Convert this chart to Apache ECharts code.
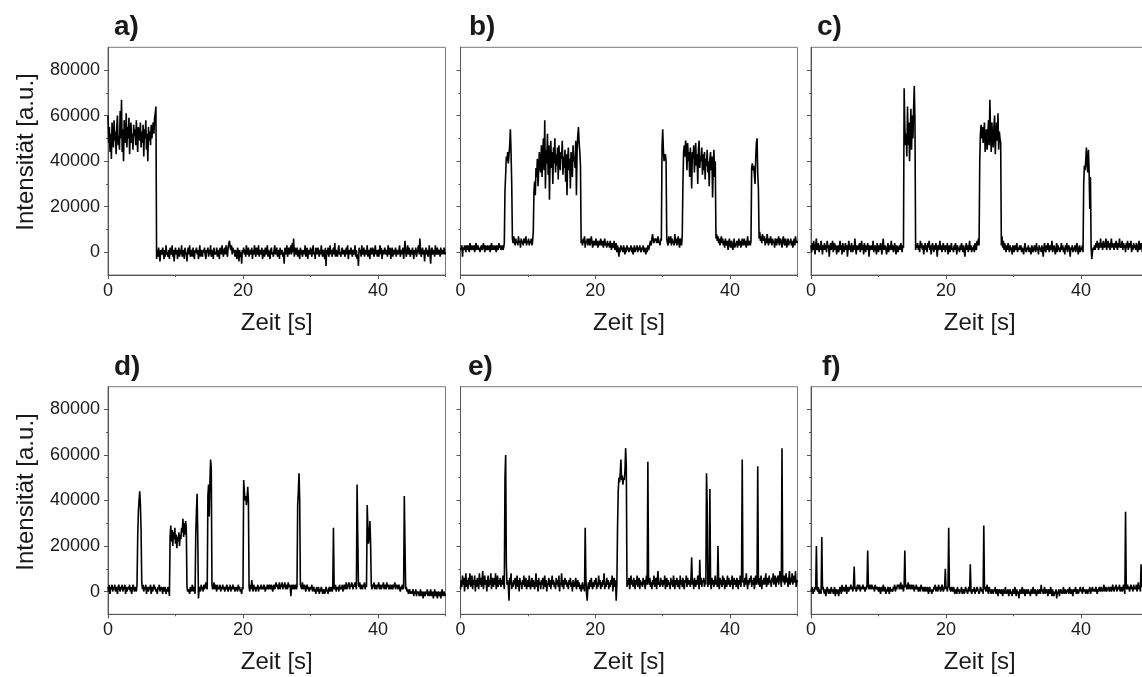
<!DOCTYPE html>
<html><head><meta charset="utf-8">
<script src="https://cdn.jsdelivr.net/npm/echarts@6/dist/echarts.min.js"></script>
<style>html,body{margin:0;padding:0;background:#fff}#c{width:1142px;height:677px}</style>
</head><body><div id="c"></div>
<script>
// sampling step of the traces (s); values below are intensities in units of 1000 a.u.
const DT = 0.1;
const panelLabels = ['a)', 'b)', 'c)', 'd)', 'e)', 'f)'];
const xTickValues = [0, 20, 40];
const xMinorValues = [10, 30, 50];
const yTickValues = [0, 20000, 40000, 60000, 80000];
const yMinorValues = [10000, 30000, 50000, 70000];
const xName = 'Zeit [s]';
const yName = 'Intensität [a.u.]';

const traceA = [
60,48,55,44,52,41,57,50,46,58,
49,53,43,55,60,47,51,45,62,50,
67,44,54,40,58,52,48,61,46,55,
50,59,43,53,57,48,52,45,56,51,
54,47,58,50,44,55,52,49,57,46,
53,48,56,42,54,50,58,45,52,40,
55,49,53,47,56,50,54,57,52,59,
61,64,-3,1,-2,2,-1,-4,1,0,
-1,2,0,-3,1,-2,3,-1,0,-2,
1,-3,2,0,-1,3,-2,1,-4,0,
2,-1,1,-3,0,2,-2,1,-1,3,
-2,0,1,-3,2,-1,0,-4,1,2,
-1,3,-2,0,1,-2,2,-1,-3,1,
0,2,-1,1,-3,0,3,-2,1,-1,
-2,1,0,2,-1,-3,1,0,2,-2,
1,-1,3,-2,0,1,-3,2,-1,0,
-1,2,-2,1,0,-3,2,1,-1,3,
0,-2,1,2,-1,3,0,-2,2,4,
5,2,1,3,-1,2,0,1,-2,1,
-1,-3,2,0,-4,1,-2,0,-5,1,
0,2,-1,1,-2,3,0,-1,2,-2,
1,-1,0,2,-3,1,-1,3,0,-2,
2,0,-1,3,-2,1,0,-1,2,-3,
0,1,-2,2,-1,0,3,-2,1,-1,
-3,1,2,-1,0,-2,1,3,-1,0,
2,-2,0,1,-3,2,-1,0,1,-2,
0,-5,2,1,-1,3,-2,0,2,-1,
1,3,-1,4,0,6,-2,2,0,-1,
2,-2,1,0,-3,2,-1,1,-2,0,
1,-1,3,-2,0,2,-3,1,0,-1,
2,0,-2,1,3,-1,0,-3,2,1,
-1,2,0,-2,1,-1,3,0,-2,1,
0,-3,2,-6,1,-1,2,-2,0,3,
-1,1,-2,0,2,-1,4,-2,1,0,
-2,1,3,-1,0,-2,1,2,-1,0,
1,-2,0,2,-1,3,-3,0,1,-1,
2,0,-2,1,-1,0,3,-2,1,-3,
-1,-6,2,0,1,-2,3,-1,0,2,
-2,1,0,-1,3,-2,1,0,-3,2,
0,-1,2,1,-2,0,3,-1,1,-2,
1,-2,0,3,-1,2,-3,0,1,-1,
2,0,-1,1,-2,3,0,-1,2,-3,
0,2,-2,1,-1,0,2,-2,1,0,
-1,1,3,-2,0,1,-1,2,-3,1,
5,0,-2,1,3,-1,2,0,-2,1,
-1,2,0,-3,1,-1,2,-2,0,1,
3,-1,6,1,-2,0,2,-1,1,-4,
0,2,-1,1,-2,0,3,-1,-5,1,
2,-1,0,1,-2,3,0,-1,2,-1,
0,1,-2,2,-1,0,1,-1,2,-1,
0];

const traceB = [
2,1,3,-2,2,1,3,2,0,3,
1,3,2,0,4,2,1,3,2,1,
3,0,2,4,1,2,3,1,2,0,
2,3,1,2,4,2,0,3,2,1,
3,1,2,3,0,2,4,1,3,2,
1,3,2,0,3,2,1,4,2,3,
1,2,3,1,2,4,27,34,42,40,
44,39,43,47,54,44,30,6,4,7,
5,3,6,4,5,3,7,4,5,2,
6,4,5,3,6,5,4,7,3,5,
4,6,3,5,4,6,3,5,9,27,
31,25,37,33,41,29,36,44,38,35,
47,33,42,50,36,58,28,45,39,52,
34,47,23,41,49,37,44,30,46,39,
50,35,43,38,46,32,47,40,36,44,
41,49,34,42,37,45,31,43,25,40,
46,36,41,28,44,39,33,47,40,42,
37,49,25,45,51,55,48,44,38,4,
5,3,6,4,7,2,5,4,6,3,
5,6,3,4,7,5,2,4,5,3,
4,6,3,5,2,4,5,3,6,4,
3,5,2,4,6,3,4,2,5,3,
4,2,5,3,1,4,2,3,5,1,
2,4,0,3,1,-2,2,0,3,1,
2,0,3,1,-1,2,0,3,1,2,
0,2,1,3,0,2,-1,1,3,0,
2,1,3,0,2,1,3,1,0,2,
1,3,0,2,1,-1,2,0,3,1,
2,4,5,3,6,8,5,4,6,5,
6,4,5,7,4,5,3,6,5,46,
54,45,40,42,43,40,6,4,3,7,
5,4,7,3,6,4,5,3,8,4,
6,3,5,7,4,2,6,5,3,7,
30,44,47,42,49,45,36,48,40,44,
33,46,39,28,44,41,47,35,42,48,
38,43,30,45,49,37,42,40,46,34,
43,36,44,32,41,38,45,35,40,29,
41,44,36,42,24,38,45,33,40,6,
8,5,7,4,6,3,5,7,4,6,
3,5,2,6,4,3,5,1,4,6,
3,2,5,4,1,3,6,2,4,3,
5,2,4,6,3,5,2,4,6,3,
4,6,3,5,2,4,7,3,5,4,
3,5,37,39,36,38,34,30,41,48,
50,35,28,6,9,5,7,4,8,6,
5,7,3,6,4,8,5,3,6,4,
7,5,3,6,4,5,2,6,5,3,
6,4,7,3,5,6,4,2,5,7,
4,3,6,5,2,4,6,3,5,4,
6,3,5,2,4,6,3,7,4,5,
4];

const traceC = [
3,0,4,1,5,2,-1,3,6,1,
2,4,0,3,1,5,2,-1,3,1,
4,1,3,0,5,2,3,-2,2,4,
1,3,5,0,2,4,1,3,-1,2,
3,0,2,5,1,3,-1,4,2,0,
2,4,1,3,-2,2,5,1,3,0,
4,2,0,3,1,6,2,-1,3,2,
1,3,4,0,2,5,1,3,-1,4,
2,0,3,1,4,2,-2,3,1,2,
3,1,5,0,2,3,1,-1,4,2,
0,3,1,4,2,-1,3,6,1,2,
3,1,-1,2,4,0,3,1,2,5,
1,3,0,2,4,1,-1,3,2,0,
2,3,1,4,2,0,3,2,72,55,
47,52,42,64,47,57,40,51,63,45,
60,50,63,73,58,1,3,2,4,1,
3,0,5,2,4,1,3,-1,2,4,
1,3,0,4,2,5,1,3,-1,2,
4,2,0,3,1,4,2,-2,3,1,
2,5,1,3,0,2,4,1,3,0,
3,1,4,-1,2,3,0,2,4,1,
2,0,3,1,4,2,-1,3,1,2,
0,3,1,4,2,0,3,1,-2,2,
4,1,3,0,2,5,1,3,0,2,
1,3,0,4,2,1,5,3,6,3,
40,52,56,50,55,48,53,57,44,51,
54,45,52,58,47,67,53,44,57,50,
46,55,60,43,52,57,49,61,45,53,
50,48,3,7,2,5,1,4,2,0,
3,1,4,2,0,3,1,2,-1,3,
2,0,3,1,2,4,0,2,1,3,
1,3,0,2,1,-1,2,4,1,0,
2,1,3,0,2,1,-1,3,2,0,
1,3,2,0,4,1,2,-1,3,1,
2,0,3,1,-2,2,4,1,0,3,
1,4,2,0,3,1,2,5,0,2,
3,1,-1,2,4,0,3,1,2,0,
2,4,1,3,0,2,-1,3,1,4,
0,2,3,1,-2,2,1,3,0,2,
1,3,0,2,4,1,-1,2,3,0,
2,1,3,0,30,38,36,40,46,38,
35,45,36,19,33,2,-3,0,2,1,
3,1,4,2,5,3,1,4,2,6,
2,4,1,5,3,2,4,6,1,3,
5,2,4,1,3,6,2,4,3,1,
4,2,5,3,1,4,2,6,3,2,
3,5,1,4,2,3,0,4,2,5,
1,3,4,2,5,0,3,1,4,2,
3,1,4,2,0,3,5,1,2,4,
2,0,3,1,4,2,-1,3,1,2,
2];

const traceD = [
2,0,3,-1,2,1,3,0,2,1,
3,0,2,1,-1,2,3,1,0,2,
1,3,0,2,1,3,-1,2,0,1,
2,1,3,0,2,-1,1,3,2,0,
1,2,0,3,24,35,40,44,38,27,
4,1,3,0,2,1,3,-1,2,1,
0,2,1,3,-1,2,0,1,3,1,
2,0,1,-1,2,1,3,0,1,2,
1,-1,2,0,1,2,-1,1,0,2,
1,-2,24,29,22,27,20,26,23,28,
21,25,19,24,22,26,20,25,23,28,
26,32,24,30,25,31,28,2,0,1,
1,-1,2,0,1,3,0,2,1,-1,
25,35,43,24,-3,1,2,0,3,1,
2,0,3,1,2,4,2,1,42,47,
33,48,58,54,3,1,2,4,1,3,
2,0,3,1,2,1,3,0,2,1,
3,1,2,0,2,1,3,1,0,2,
1,3,0,2,1,3,1,2,0,1,
2,1,0,3,1,2,0,1,-1,2,
1,49,44,40,42,38,41,46,40,2,
0,3,1,5,2,0,3,1,2,0,
2,1,3,0,2,1,2,3,1,2,
1,3,2,0,2,1,3,2,1,3,
2,1,3,2,0,2,3,1,2,4,
2,3,1,2,4,1,3,2,4,1,
3,2,4,1,2,3,1,4,2,3,
2,-2,3,1,2,3,1,2,3,1,
2,38,44,52,40,3,2,1,4,2,
1,3,2,0,2,3,1,2,0,1,
2,1,3,0,1,2,0,1,-1,2,
1,0,2,-1,1,0,2,1,-1,0,
1,-1,0,2,1,0,-1,1,2,0,
1,2,0,1,28,2,1,3,0,2,
1,2,0,3,1,2,1,3,0,2,
3,1,2,4,1,3,2,4,1,3,
2,4,3,1,3,2,4,3,1,47,
25,3,2,4,1,3,2,1,3,2,
4,1,3,2,38,28,21,24,31,22,
3,1,3,2,4,1,3,2,1,3,
2,4,1,3,2,1,3,2,4,1,
3,2,1,4,2,3,1,2,3,1,
2,3,1,3,2,4,1,2,3,2,
1,3,2,0,2,1,3,1,2,42,
20,1,2,0,1,-1,0,1,-1,0,
-1,0,1,-2,0,-1,1,-2,0,-1,
0,-2,-1,1,-2,0,-1,-3,0,-1,
-2,0,-1,1,-2,-1,0,-2,1,-1,
-2,0,-3,-1,1,-2,0,-1,-3,0,
-1,-2,0,-3,-1,1,-2,-1,0,-2,
-1];

const traceE = [
1,5,2,7,3,6,0,4,8,2,
5,1,6,3,8,2,4,7,1,5,
3,7,0,5,2,6,4,1,8,3,
6,2,5,9,1,4,7,3,5,0,
4,7,2,5,3,8,1,6,4,2,
6,3,8,1,4,7,2,5,3,6,
2,5,3,7,4,1,50,60,12,3,
5,2,-4,6,3,8,1,4,2,5,
3,6,1,4,7,2,5,0,6,3,
4,1,5,3,7,2,4,6,1,3,
5,2,7,3,1,4,6,2,5,3,
1,4,8,2,5,0,6,3,4,1,
5,3,6,1,4,7,2,5,0,4,
3,6,2,5,1,4,7,3,5,2,
4,1,6,3,5,2,7,0,4,3,
8,2,5,1,4,6,3,5,2,4,
1,5,3,6,2,4,0,5,3,2,
4,6,1,3,5,2,4,1,3,0,
2,4,1,3,0,28,6,-1,-4,2,
4,1,5,2,6,3,1,4,2,5,
3,6,1,4,2,7,3,5,1,4,
2,5,3,8,1,4,2,6,3,5,
1,4,2,5,3,7,0,4,6,2,
5,-4,3,28,44,50,48,52,58,49,
51,47,50,49,53,63,55,2,5,3,
6,1,4,7,3,5,2,6,4,1,
5,3,7,2,4,6,1,5,3,4,
2,6,3,5,1,4,7,3,57,5,
3,6,2,4,1,5,3,7,2,4,
6,1,5,9,3,4,2,6,3,5,
2,5,3,7,1,4,6,2,5,3,
4,1,6,3,5,2,7,4,1,5,
3,6,2,5,4,1,7,3,5,2,
6,3,1,5,4,7,2,6,3,5,
4,2,6,15,3,5,1,6,4,2,
5,3,7,4,1,14,3,6,2,5,
4,6,2,5,3,52,38,2,5,3,
45,4,1,6,3,5,2,4,7,3,
5,2,20,4,1,6,3,5,2,7,
3,6,1,4,5,2,7,3,6,4,
2,5,3,7,1,4,6,3,5,2,
6,4,1,5,3,7,2,6,58,4,
5,2,6,3,8,4,1,5,3,6,
4,7,2,5,3,6,1,4,7,3,
5,55,3,6,2,4,7,1,5,3,
6,3,5,8,2,4,6,3,7,4,
5,2,6,4,8,3,5,7,2,6,
4,7,3,6,9,5,2,63,6,4,
7,3,5,8,4,6,2,5,9,3,
6,4,8,3,5,7,4,9,2,5,
4];

const traceF = [
1,0,2,-1,1,0,2,1,20,1,
0,2,-1,1,0,-1,24,1,2,0,
-1,1,-2,0,2,1,-1,0,1,-1,
2,0,1,-1,0,2,-2,1,0,-1,
1,-2,0,2,1,-1,3,0,1,2,
0,1,3,-1,2,1,0,2,1,3,
1,2,0,3,11,1,2,0,1,3,
2,1,3,0,2,1,2,3,1,2,
0,2,1,3,18,2,1,3,2,1,
3,2,1,2,0,3,2,1,2,1,
0,2,1,-1,2,1,0,3,1,0,
2,-1,1,0,2,1,-1,2,0,1,
1,0,2,1,3,0,2,1,3,2,
3,1,2,4,1,3,2,0,3,18,
2,3,1,2,4,1,3,2,1,3,
2,1,3,0,2,1,3,1,2,0,
1,2,0,3,1,2,0,1,2,0,
2,1,0,2,-1,1,2,0,1,-1,
1,0,2,1,3,0,1,2,0,3,
1,2,0,1,3,2,0,1,2,10,
1,2,0,3,28,2,1,0,2,1,
0,2,1,-1,0,1,-1,2,0,1,
-1,1,0,2,-1,0,1,-1,0,2,
1,0,-1,1,2,0,12,1,-1,0,
1,0,2,-1,1,0,2,1,0,-1,
0,2,1,0,1,-1,29,1,2,0,
1,3,0,-1,2,1,0,-1,1,0,
-1,1,0,2,-1,0,1,-2,0,1,
0,-1,1,0,-2,1,0,-1,2,0,
-1,0,1,-2,0,1,-1,0,-2,1,
0,-1,2,0,-2,1,-1,0,-3,0,
1,-1,0,2,-1,0,1,-2,0,1,
-1,0,1,-1,0,-2,1,0,-1,2,
0,-1,1,0,-2,0,1,-1,0,1,
-1,3,0,1,-1,0,2,-1,0,1,
0,-2,1,0,-1,2,0,-2,1,-1,
-2,0,-1,1,-3,0,-1,1,-2,0,
1,0,-1,0,2,-1,0,1,-1,0,
0,1,-1,2,0,-1,1,0,-2,1,
1,0,2,-1,0,1,-1,0,1,2,
0,1,-1,2,0,1,0,-1,1,0,
-1,1,0,2,-1,0,1,2,0,1,
1,0,2,1,-1,1,0,2,1,0,
2,1,0,1,3,0,1,2,0,1,
1,2,0,1,2,0,1,3,1,0,
2,1,3,0,1,2,1,3,0,1,
2,0,1,3,1,-1,35,2,1,3,
1,2,0,2,3,1,2,0,3,1,
2,1,3,0,2,4,1,2,0,12,
2,3,1,2,0,1,3,0,2,1,
1];

const traces = [traceA, traceB, traceC, traceD, traceE, traceF];

// ---------- layout (pixels) ----------
const colLeft = [108, 460.5, 811];
const colWidth = [337.5, 337, 337.5];
const rowTop = [47.3, 386.7];
const rowHeight = [227.7, 227.6];
const labelPos = [[114, 13], [469, 13], [817, 13], [114, 353], [468, 353], [822, 353]];
const yNamePos = [[26, 152], [26, 492]];

const FONT = "'Liberation Sans', Arial, Helvetica, sans-serif";
const AXIS_COLOR = '#555';
const TEXT_COLOR = '#1a1a1a';

const grids = [], xAxes = [], yAxes = [], series = [], titles = [];
for (let p = 0; p < 6; p++) {
  const col = p % 3, row = Math.floor(p / 3);
  grids.push({
    left: colLeft[col], top: rowTop[row], width: colWidth[col], height: rowHeight[row],
    outerBoundsMode: 'none', containLabel: false,
    show: true, borderColor: '#7a7a7a', borderWidth: 1, backgroundColor: 'transparent'
  });
  const showY = col === 0;
  xAxes.push({
    gridIndex: p, type: 'value', min: 0, max: 50, position: 'bottom',
    name: xName, nameLocation: 'middle', nameGap: 36,
    nameTextStyle: { fontFamily: FONT, fontSize: 24, color: TEXT_COLOR },
    axisLine: { show: true, onZero: false, lineStyle: { color: AXIS_COLOR, width: 1 } },
    axisTick: { show: true, length: 4, inside: false, customValues: xTickValues, lineStyle: { color: AXIS_COLOR } },
    axisLabel: { show: true, customValues: xTickValues, margin: 7, fontFamily: FONT, fontSize: 18, color: TEXT_COLOR, formatter: v => String(v) },
    splitLine: { show: false }
  });
  xAxes.push({
    gridIndex: p, type: 'value', min: 0, max: 50, position: 'bottom', offset: 0,
    axisLine: { show: false, onZero: false },
    axisTick: { show: true, length: 2, customValues: xMinorValues, lineStyle: { color: AXIS_COLOR } },
    axisLabel: { show: false }, splitLine: { show: false }
  });
  yAxes.push({
    gridIndex: p, type: 'value', min: -10000, max: 90000, position: 'left',
    axisLine: { show: true, onZero: false, lineStyle: { color: AXIS_COLOR, width: 1 } },
    axisTick: { show: true, length: 4, customValues: yTickValues, lineStyle: { color: AXIS_COLOR } },
    axisLabel: { show: showY, customValues: yTickValues, margin: 8, fontFamily: FONT, fontSize: 18, color: TEXT_COLOR, formatter: v => String(v) },
    splitLine: { show: false }
  });
  yAxes.push({
    gridIndex: p, type: 'value', min: -10000, max: 90000, position: 'left', offset: 0,
    axisLine: { show: false, onZero: false },
    axisTick: { show: true, length: 2, customValues: yMinorValues, lineStyle: { color: AXIS_COLOR } },
    axisLabel: { show: false }, splitLine: { show: false }
  });
  series.push({
    type: 'line', xAxisIndex: 2 * p, yAxisIndex: 2 * p,
    data: traces[p].map((v, i) => [+(i * DT).toFixed(1), v * 1000]),
    showSymbol: false, symbol: 'none', animation: false,
    lineStyle: { color: '#000', width: 1.6 }, clip: true
  });
  titles.push({
    text: panelLabels[p], left: labelPos[p][0], top: labelPos[p][1], padding: 0,
    textStyle: { fontFamily: FONT, fontSize: 28, fontWeight: 'bold', color: '#1a1a1a' }
  });
}

const graphics = yNamePos.map(([x, y]) => ({
  type: 'text', x: x, y: y, rotation: Math.PI / 2,
  style: { text: yName, font: '24px ' + FONT, fill: TEXT_COLOR, align: 'center', verticalAlign: 'middle' }
}));

const chart = echarts.init(document.getElementById('c'), null, { renderer: 'canvas' });
chart.setOption({
  backgroundColor: '#fff',
  animation: false,
  title: titles,
  grid: grids,
  xAxis: xAxes,
  yAxis: yAxes,
  series: series,
  graphic: graphics
});
</script>
</body></html>
